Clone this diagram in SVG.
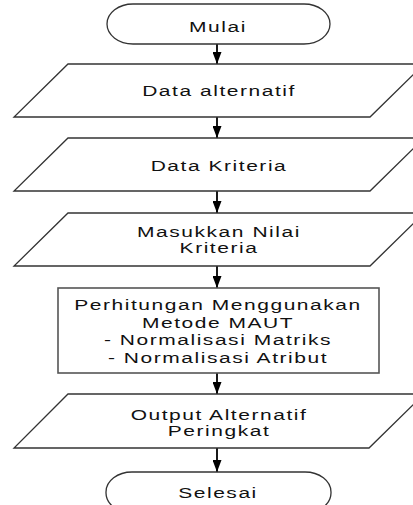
<svg xmlns="http://www.w3.org/2000/svg" width="413" height="505" viewBox="0 0 413 505">
<style>
.shape{fill:#fff;stroke:#333;stroke-width:1.3}
.box{fill:#fff;stroke:#555;stroke-width:1.6}
.lbl{font-family:"Liberation Sans",Arial,sans-serif;font-size:15px;fill:#111;text-anchor:middle;letter-spacing:1.1px}
.conn{stroke:#000;stroke-width:1.8;fill:none}
</style>
<defs>
<marker id="ah" viewBox="0 0 12 9" refX="12" refY="4.5" markerWidth="12" markerHeight="9" markerUnits="userSpaceOnUse" orient="auto">
<path d="M0,0 L12,4.5 L0,9 Z" fill="#000"/>
</marker>
</defs>
<rect width="413" height="505" fill="#fff"/>
<g id="connectors">
<line class="conn" x1="217" y1="44" x2="217" y2="64" marker-end="url(#ah)"/>
<line class="conn" x1="217" y1="117" x2="217" y2="138" marker-end="url(#ah)"/>
<line class="conn" x1="217" y1="191" x2="217" y2="213" marker-end="url(#ah)"/>
<line class="conn" x1="217" y1="266" x2="217" y2="288" marker-end="url(#ah)"/>
<line class="conn" x1="217" y1="373" x2="217" y2="394" marker-end="url(#ah)"/>
<line class="conn" x1="217" y1="448" x2="217" y2="472" marker-end="url(#ah)"/>
</g>
<g id="mulai">
<rect class="shape" x="107" y="4" width="223" height="40" rx="26" ry="20"/>
<text class="lbl" transform="translate(218,32) scale(1.4,1)">Mulai</text>
</g>
<g id="data-alternatif">
<polygon class="shape" points="68,64 424,64 370,117 14,117"/>
<text class="lbl" transform="translate(219,96) scale(1.4,1)">Data alternatif</text>
</g>
<g id="data-kriteria">
<polygon class="shape" points="68,138 424,138 370,191 14,191"/>
<text class="lbl" transform="translate(219,171) scale(1.4,1)">Data Kriteria</text>
</g>
<g id="masukkan-nilai">
<polygon class="shape" points="68,213 424,213 370,266 14,266"/>
<text class="lbl" transform="translate(219,237) scale(1.4,1)">Masukkan Nilai</text>
<text class="lbl" transform="translate(219,253) scale(1.4,1)">Kriteria</text>
</g>
<g id="perhitungan">
<rect class="box" x="58" y="288" width="321" height="85"/>
<text class="lbl" transform="translate(218,310) scale(1.4,1)">Perhitungan Menggunakan</text>
<text class="lbl" transform="translate(218,327.5) scale(1.4,1)">Metode MAUT</text>
<text class="lbl" transform="translate(218,345) scale(1.4,1)">- Normalisasi Matriks</text>
<text class="lbl" transform="translate(218,362.5) scale(1.4,1)">- Normalisasi Atribut</text>
</g>
<g id="output">
<polygon class="shape" points="68,394 424,394 369,448 14,448"/>
<text class="lbl" transform="translate(219,420) scale(1.4,1)">Output Alternatif</text>
<text class="lbl" transform="translate(219,436) scale(1.4,1)">Peringkat</text>
</g>
<g id="selesai">
<rect class="shape" x="106" y="472" width="225" height="41" rx="26" ry="20"/>
<text class="lbl" transform="translate(218,498) scale(1.4,1)">Selesai</text>
</g>
</svg>
